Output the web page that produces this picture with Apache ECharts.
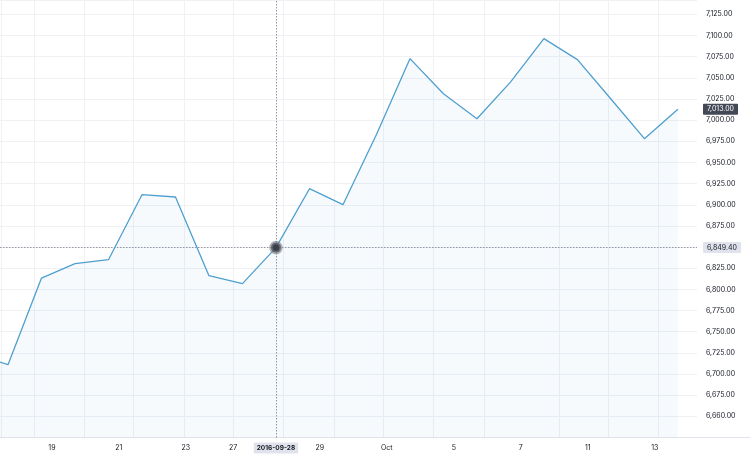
<!DOCTYPE html>
<html>
<head>
<meta charset="utf-8">
<script src="https://cdn.jsdelivr.net/npm/echarts@6/dist/echarts.min.js"></script>
<style>
html,body{margin:0;padding:0;background:#fff;}
#chart{width:750px;height:458px;}
</style>
</head>
<body>
<div id="chart"></div>
<script>
// ---- data ----
const dates = ['2016-09-15','2016-09-16','2016-09-19','2016-09-20','2016-09-21','2016-09-22','2016-09-23',
  '2016-09-26','2016-09-27','2016-09-28','2016-09-29','2016-09-30','2016-10-03','2016-10-04','2016-10-05',
  '2016-10-06','2016-10-07','2016-10-10','2016-10-11','2016-10-12','2016-10-13','2016-10-14'];
const closes = [6724.0, 6711.0, 6813.4, 6830.4, 6835.1, 6911.9, 6909.2,
  6816.2, 6806.8, 6849.4, 6919.0, 6900.1, 6983.0, 7072.7, 7031.3,
  7001.7, 7045.0, 7096.3, 7071.5, 7025.0, 6978.1, 7013.0];
const tickDates = ['2016-09-19','2016-09-21','2016-09-23','2016-09-27','2016-09-29','2016-10-03','2016-10-05','2016-10-07','2016-10-11','2016-10-13'];
const tickLabels = ['19','21','23','27','29','Oct','5','7','11','13'];
const yTickLabels = ['6,660.00','6,675.00','6,700.00','6,725.00','6,750.00','6,775.00','6,800.00','6,825.00','6,850.00',
  '6,875.00','6,900.00','6,925.00','6,950.00','6,975.00','7,000.00','7,025.00','7,050.00','7,075.00','7,100.00','7,125.00'];
const crosshairDate = '2016-09-28';
const crosshairValue = 6849.40;
const crosshairLabel = '6,849.40';
const lastValue = 7013.00;
const lastLabel = '7,013.00';

// ---- layout ----
const Y_MIN = 6625, Y_MAX = 7142, Y_STEP = 25, Y_FIRST = 6650;
const X_MIN = 0.761, X_MAX = 21.57;
const labelShift = 0.31;
const gridPos = [0.79, 1.78, 3.27, 4.73, 6.25, 7.72, 9.21, 10.73, 12.19, 13.69, 15.21, 17.45, 18.91, 20.4];

const crossIdx = dates.indexOf(crosshairDate);
const labelPos = tickDates.map(d => {
  let p = dates.indexOf(d) + labelShift;
  if (p < crossIdx && crossIdx - p < 1) p = crossIdx - 1.28;
  return p;
});
function xLabel(v) {
  let best = -1, bd = 1e9;
  labelPos.forEach((p, i) => { const dd = Math.abs(p - v); if (dd < bd) { bd = dd; best = i; } });
  return bd < 0.05 ? tickLabels[best] : '';
}
function yLabel(v) {
  const i = Math.round((v - Y_FIRST) / Y_STEP);
  return (i >= 0 && i < yTickLabels.length && Math.abs(v - (Y_FIRST + i * Y_STEP)) < 1e-6) ? yTickLabels[i] : '';
}

const FONT = 'Inter, "Noto Sans", sans-serif';
const TXT = '#131722';
const GRIDC = '#eff1f5';

const seriesData = closes.map((v, i) => {
  if (i === crossIdx) {
    return { value: [i, v], symbol: 'circle', symbolSize: 10,
      itemStyle: { color: '#3a3f4c', borderColor: 'rgba(125,128,139,0.6)', borderWidth: 3.5 } };
  }
  return [i, v];
});

const chart = echarts.init(document.getElementById('chart'), null, { renderer: 'canvas' });
chart.setOption({
  animation: false,
  backgroundColor: '#ffffff',
  axisPointer: { triggerOn: 'none' },
  grid: [
    { left: 0, right: 53, top: 0, bottom: 20.5 },
    { left: 0, right: 0, top: 0, bottom: 20.5 }
  ],
  xAxis: [
    {
      type: 'value', gridIndex: 0, min: X_MIN, max: X_MAX,
      axisLine: { show: false },
      axisTick: { show: false, customValues: gridPos },
      splitLine: { show: true, lineStyle: { color: GRIDC, width: 1 } },
      axisLabel: {
        show: true, customValues: labelPos, formatter: xLabel,
        color: TXT, fontSize: 7, fontFamily: FONT, margin: 7
      },
      axisPointer: {
        show: true, status: 'show', value: crossIdx, snap: false, type: 'line',
        lineStyle: { color: '#9598a1', width: 1, type: [1.5, 1.5] },
        label: {
          show: true, formatter: () => crosshairDate,
          backgroundColor: '#e0e3eb', color: TXT, fontSize: 6.5, fontWeight: 'bold',
          fontFamily: FONT, padding: [2, 3, 2, 3], margin: 5, borderRadius: 1
        }
      }
    },
    {
      type: 'value', gridIndex: 1, min: 0, max: 1,
      axisLine: { show: true, lineStyle: { color: '#e0e3eb', width: 1 } },
      axisTick: { show: false }, axisLabel: { show: false }, splitLine: { show: false }
    }
  ],
  yAxis: [
    {
      type: 'value', gridIndex: 0, position: 'right', min: Y_MIN, max: Y_MAX, interval: Y_STEP,
      axisLine: { show: false }, axisTick: { show: false },
      splitLine: { show: true, lineStyle: { color: GRIDC, width: 1 } },
      axisLabel: { show: true, formatter: yLabel, color: TXT, fontSize: 7, fontFamily: FONT, margin: 9, showMinLabel: true, showMaxLabel: false },
      axisPointer: {
        show: true, status: 'show', value: crosshairValue, snap: false, type: 'line',
        lineStyle: { color: '#9598a1', width: 1, type: [1.5, 1.5] },
        label: {
          show: true, formatter: () => crosshairLabel,
          backgroundColor: '#e0e3eb', color: TXT, fontSize: 7, fontFamily: FONT,
          padding: [2, 4, 2, 4], margin: 6, borderRadius: 1
        }
      }
    },
    {
      type: 'value', gridIndex: 0, position: 'right', min: Y_MIN, max: Y_MAX, interval: Y_STEP,
      axisLine: { show: false }, axisTick: { show: false }, splitLine: { show: false },
      axisLabel: { show: false },
      axisPointer: {
        show: true, status: 'show', value: lastValue, snap: false, type: 'line',
        lineStyle: { color: 'rgba(0,0,0,0)', width: 0 },
        label: {
          show: true, formatter: () => lastLabel,
          backgroundColor: '#434857', color: '#ffffff', fontSize: 7, fontFamily: FONT,
          padding: [2, 4, 2, 4], margin: 6, borderRadius: 1
        }
      }
    },
    { type: 'value', gridIndex: 1, show: false, min: 0, max: 1 }
  ],
  series: [{
    type: 'line',
    xAxisIndex: 0, yAxisIndex: 0,
    data: seriesData,
    symbol: 'none',
    showSymbol: true,
    clip: true,
    lineStyle: { color: '#4f9fcf', width: 1.3 },
    itemStyle: { color: '#4f9fcf' },
    areaStyle: { color: 'rgba(79,159,207,0.07)', origin: 'start' },
    emphasis: { disabled: true },
    silent: true,
    z: 100
  }]
});
</script>
</body>
</html>
